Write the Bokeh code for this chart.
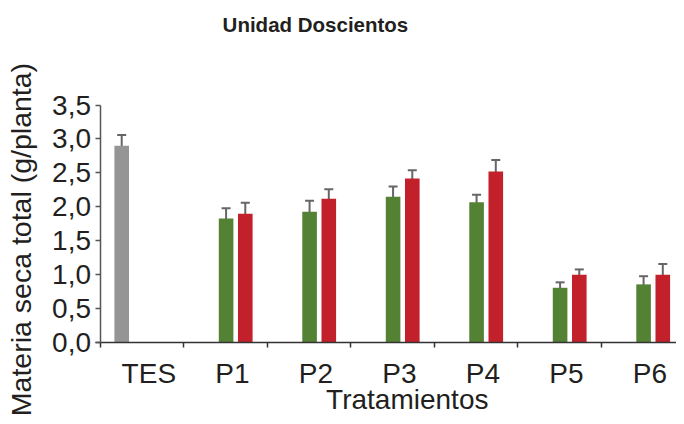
import math
from bokeh.plotting import figure
from bokeh.models import (ColumnDataSource, Range1d, FixedTicker, CustomJSTickFormatter,
                          Whisker, TeeHead, Label)
from bokeh.embed import file_html
from bokeh.resources import INLINE

# ---- data ----
categories = ["TES", "P1", "P2", "P3", "P4", "P5", "P6"]
tes_value = [2.90]
tes_error = [0.16]
series_green = [1.83, 1.93, 2.15, 2.07, 0.81, 0.86]
series_green_err = [0.15, 0.16, 0.15, 0.11, 0.08, 0.12]
series_red = [1.90, 2.12, 2.42, 2.52, 1.00, 1.00]
series_red_err = [0.16, 0.14, 0.12, 0.17, 0.08, 0.16]
y_ticks = [0.0, 0.5, 1.0, 1.5, 2.0, 2.5, 3.0, 3.5]

FONT = "Liberation Sans"
TXT = "#231f20"
GRAY = "#959595"
GREEN = "#548235"
RED = "#c2202a"
ERR = "#666666"

W, H = 676, 416
# frame covers the whole figure; axes are pinned at data locations
px_x = 83.5           # px per category
px_y = 237.8 / 3.5    # px per unit
x0_px = 99.5          # where x=0.5 sits (px from left)
y0_px = 342.3         # where y=0 sits (px from top)
x_start = 0.5 - x0_px / px_x
x_end = 0.5 + (W - x0_px) / px_x
y_start = -(H - y0_px) / px_y
y_end = y0_px / px_y

p = figure(width=W, height=H, output_backend="svg", toolbar_location=None,
           x_range=Range1d(x_start, x_end), y_range=Range1d(y_start, y_end),
           min_border=0)
p.outline_line_color = None
p.xgrid.visible = False
p.ygrid.visible = False
p.background_fill_color = "white"
p.border_fill_color = "white"

# positions of bars within each category
gx_off, rx_off, tx_off = 0.01, 0.24, -0.24
bw = 0.175

tes_src = ColumnDataSource(dict(x=[1 + tx_off], top=tes_value,
                                upper=[v + e for v, e in zip(tes_value, tes_error)],
                                lower=[v - e for v, e in zip(tes_value, tes_error)]))
g_x = [i + 2 + gx_off for i in range(len(series_green))]
r_x = [i + 2 + rx_off for i in range(len(series_red))]
g_src = ColumnDataSource(dict(x=g_x, top=series_green,
                              upper=[v + e for v, e in zip(series_green, series_green_err)],
                              lower=[v - e for v, e in zip(series_green, series_green_err)]))
r_src = ColumnDataSource(dict(x=r_x, top=series_red,
                              upper=[v + e for v, e in zip(series_red, series_red_err)],
                              lower=[v - e for v, e in zip(series_red, series_red_err)]))

for src, col in ((tes_src, GRAY), (g_src, GREEN), (r_src, RED)):
    p.vbar(x="x", top="top", bottom=0, width=bw, source=src, fill_color=col,
           line_color=None)
    w = Whisker(source=src, base="x", upper="upper", lower="lower",
                line_color=ERR, line_width=2,
                upper_head=TeeHead(size=9, line_color=ERR, line_width=2),
                lower_head=TeeHead(size=9, line_color=ERR, line_width=2))
    p.add_layout(w)

# y axis
ya = p.yaxis[0]
ya.fixed_location = 0.5
ya.bounds = (0, 3.5)
ya.ticker = FixedTicker(ticks=y_ticks, minor_ticks=[])
ya.formatter = CustomJSTickFormatter(code="return tick.toFixed(1).replace('.', ',');")
ya.axis_line_color = "#555555"
ya.axis_line_width = 1.5
ya.major_tick_line_color = "#555555"
ya.major_tick_line_width = 1.5
ya.major_tick_out = 5
ya.major_tick_in = 0
ya.minor_tick_line_color = None
ya.major_label_text_font = FONT
ya.major_label_text_font_size = "28px"
ya.major_label_text_color = TXT
ya.major_label_standoff = 4

# x axis
xa = p.xaxis[0]
xa.fixed_location = 0
xa.bounds = (0.45, 7.5)
lab_off = 0.085
xa.ticker = FixedTicker(ticks=[i + 1 + lab_off for i in range(len(categories))],
                        minor_ticks=[i + 0.5 for i in range(len(categories) + 1)])
xa.formatter = CustomJSTickFormatter(args=dict(labels=categories),
                                     code="return labels[Math.round(tick) - 1];")
xa.axis_line_color = "#333333"
xa.axis_line_width = 1.5
xa.major_tick_line_color = None
xa.major_tick_out = 0
xa.major_tick_in = 0
xa.minor_tick_line_color = "#333333"
xa.minor_tick_line_width = 1.5
xa.minor_tick_out = 5
xa.minor_tick_in = 0
xa.major_label_text_font = FONT
xa.major_label_text_font_size = "28px"
xa.major_label_text_color = TXT
xa.major_label_standoff = 10

# title / axis titles as labels (data coordinates, anchored at text middle)
p.add_layout(Label(x=3.08, y=4.685, text="Unidad Doscientos", text_font=FONT,
                   text_font_size="20.5px", text_font_style="bold", text_color=TXT,
                   text_align="center", text_baseline="middle"))
p.add_layout(Label(x=4.18, y=-0.835, text="Tratamientos", text_font=FONT,
                   text_font_size="28px", text_color=TXT,
                   text_align="center", text_baseline="middle"))
p.add_layout(Label(x=-0.452, y=1.52, text="Materia seca total (g/planta)", text_font=FONT,
                   text_font_size="28.5px", text_color=TXT, angle=math.pi / 2,
                   text_align="center", text_baseline="middle"))

open("out.html", "w").write(file_html(p, INLINE))
